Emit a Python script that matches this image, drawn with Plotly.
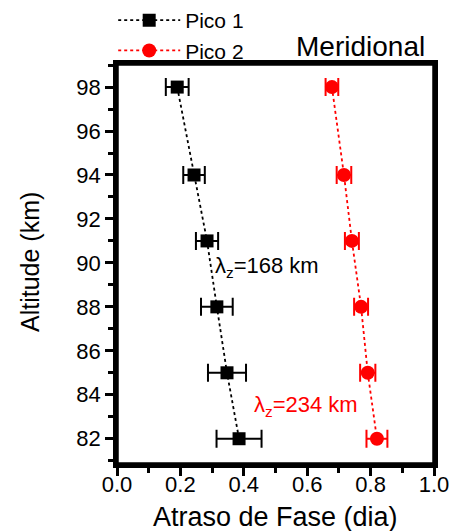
import plotly.graph_objects as go

altitude = [98, 94, 91, 88, 85, 82]
pico1 = [0.19, 0.243, 0.284, 0.315, 0.347, 0.385]
pico1_err = [0.036, 0.034, 0.035, 0.05, 0.06, 0.071]
pico2 = [0.678, 0.716, 0.741, 0.770, 0.791, 0.820]
pico2_err = [0.02, 0.023, 0.022, 0.022, 0.024, 0.033]

FONT = "Liberation Sans, Arial, sans-serif"

fig = go.Figure()
fig.add_trace(go.Scatter(
    x=pico1, y=altitude, mode="lines+markers", name="Pico 1",
    line=dict(color="black", width=1.8, dash="dot"),
    marker=dict(symbol="square", size=13, color="black"),
    error_x=dict(type="data", array=pico1_err, color="black", thickness=2, width=9),
))
fig.add_trace(go.Scatter(
    x=pico2, y=altitude, mode="lines+markers", name="Pico 2",
    line=dict(color="red", width=1.8, dash="dot"),
    marker=dict(symbol="circle", size=14, color="red"),
    error_x=dict(type="data", array=pico2_err, color="red", thickness=2, width=9),
))

fig.add_annotation(x=0.303, y=89.8, xref="x", yref="y", text="λ<sub>z</sub>=168 km",
                   showarrow=False, xanchor="left", yanchor="middle",
                   font=dict(family=FONT, size=22, color="black"))
fig.add_annotation(x=0.425, y=83.5, xref="x", yref="y", text="λ<sub>z</sub>=234 km",
                   showarrow=False, xanchor="left", yanchor="middle",
                   font=dict(family=FONT, size=22, color="red"))
fig.add_annotation(x=1.0, y=1.0, xref="paper", yref="paper", text="Meridional",
                   showarrow=False, xanchor="right", yanchor="bottom", xshift=-7, yshift=0,
                   font=dict(family=FONT, size=28, color="black"))
# axis titles
fig.add_annotation(x=0.5, y=-0.132, xref="paper", yref="paper", text="Atraso de Fase (dia)",
                   showarrow=False, xanchor="center", yanchor="middle",
                   font=dict(family=FONT, size=27, color="black"))
fig.add_annotation(x=-0.2745, y=0.505, xref="paper", yref="paper", text="Altitude (km)",
                   showarrow=False, xanchor="center", yanchor="middle", textangle=-90,
                   font=dict(family=FONT, size=25, color="black"))

# plot frame
fig.add_shape(type="rect", xref="paper", yref="paper", x0=0, y0=0, x1=1, y1=1,
              line=dict(color="black", width=3.5), layer="above")

fig.update_layout(
    width=452, height=531,
    margin=dict(l=117, r=18, t=64, b=67, autoexpand=False),
    paper_bgcolor="white", plot_bgcolor="white",
    font=dict(family=FONT, size=22, color="black"),
    showlegend=True,
    legend=dict(x=-0.012, y=1.16, xanchor="left", yanchor="top", xref="paper", yref="paper",
                bgcolor="rgba(0,0,0,0)", font=dict(family=FONT, size=21),
                tracegroupgap=0, itemwidth=62, traceorder="normal"),
    xaxis=dict(range=[0, 1], dtick=0.2, tick0=0, tickformat=".1f",
               showgrid=False, zeroline=False,
               showline=True, linecolor="black", linewidth=3.5, mirror=True,
               ticks="outside", ticklen=8, tickwidth=3, tickcolor="black",
               ticklabelstandoff=-10,
               minor=dict(dtick=0.1, ticks="outside", ticklen=5, tickwidth=3, tickcolor="black")),
    yaxis=dict(range=[80.85, 99.05], dtick=2, tick0=82,
               showgrid=False, zeroline=False,
               showline=True, linecolor="black", linewidth=3.5, mirror=True,
               ticks="outside", ticklen=8, tickwidth=3, tickcolor="black",
               minor=dict(dtick=1, ticks="outside", ticklen=5, tickwidth=3, tickcolor="black")),
)

fig.write_html("out.html")
